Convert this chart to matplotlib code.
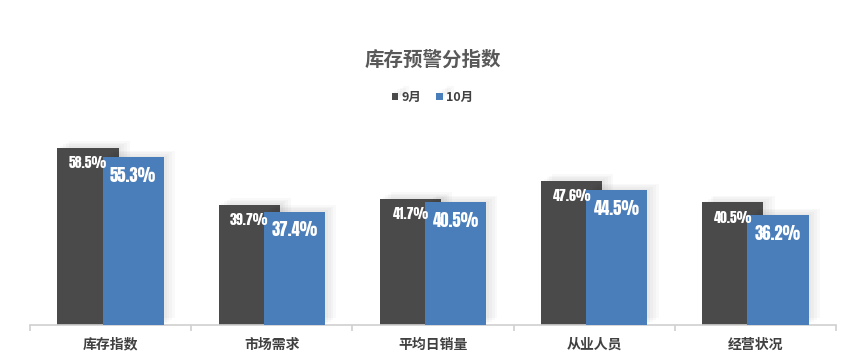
import numpy as np
import matplotlib.pyplot as plt
import matplotlib.patheffects as pe

plt.rcParams['font.family'] = ['Noto Sans CJK SC', 'DejaVu Sans']

categories = ['库存指数', '市场需求', '平均日销量', '从业人员', '经营状况']
sep = [58.5, 39.7, 41.7, 47.6, 40.5]
octo = [55.3, 37.4, 40.5, 44.5, 36.2]
series_names = ['9月', '10月']

c_gray = '#4a4a4a'
c_blue = '#4a7ebb'

fig = plt.figure(figsize=(8.65, 3.6), dpi=100)
ax = fig.add_axes([0.0347, 0.0972, 0.9318, 0.547])

x = np.arange(len(categories))
w = 0.38
off = 0.14
# soft shadow, a few faint layers
shadow = [pe.SimplePatchShadow(offset=(d, d * 0.6), shadow_rgbFace='#000000', alpha=0.025)
          for d in (2, 4, 6, 8)] + [pe.Normal()]
b1 = ax.bar(x - off, sep, w, color=c_gray, label=series_names[0], zorder=2, path_effects=shadow)
b2 = ax.bar(x + off, octo, w, color=c_blue, label=series_names[1], zorder=3, path_effects=shadow)

num_font = ['Anton', 'DejaVu Sans']
for xi, v in zip(x - off, sep):
    ax.annotate(f'{v}%', (xi, v), xytext=(0, -6), textcoords='offset points',
                ha='center', va='top', color='white', fontsize=10,
                family=num_font, zorder=5)
for xi, v in zip(x + off, octo):
    ax.annotate(f'{v}%', (xi, v), xytext=(0, -7), textcoords='offset points',
                ha='center', va='top', color='white', fontsize=12,
                family=num_font, zorder=5)

ax.set_xlim(-0.5, len(categories) - 0.5)
ax.set_ylim(0, 65)
ax.set_yticks([])
for s in ['left', 'right', 'top']:
    ax.spines[s].set_visible(False)
ax.spines['bottom'].set_color('#d0d0d0')
ax.spines['bottom'].set_linewidth(1.2)

ax.set_xticks(np.arange(len(categories) + 1) - 0.5)
ax.set_xticklabels([])
ax.tick_params(axis='x', which='major', length=4, color='#d0d0d0', width=1.2)
ax.set_xticks(x, minor=True)
ax.set_xticklabels(categories, minor=True, fontsize=10, fontweight='bold', color='#404040')
ax.tick_params(axis='x', which='minor', length=0, pad=9)

fig.text(0.5, 0.833, '库存预警分指数', ha='center', va='center', fontsize=14,
         fontweight='bold', color='#595959')
fig.legend(handles=[b1, b2], loc='center', bbox_to_anchor=(0.5, 0.73), ncol=2,
           frameon=False, handlelength=0.5, handleheight=0.5, handletextpad=0.3,
           columnspacing=1.2, prop={'size': 9, 'weight': 'bold'}, labelcolor='#404040')

fig.savefig('out.png', dpi=100)
